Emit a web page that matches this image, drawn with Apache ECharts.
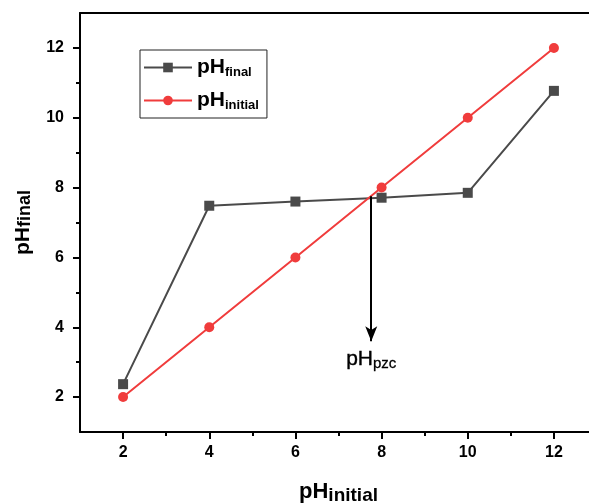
<!DOCTYPE html>
<html>
<head>
<meta charset="utf-8">
<script src="https://cdn.jsdelivr.net/npm/echarts@6/dist/echarts.min.js"></script>
<style>
	html, body { margin: 0; padding: 0; background: #fff; }
	#container { width: 589px; height: 504px; }
</style>
</head>
<body>
<div id="container"></div>
<script type="text/javascript">
	// data
	var phInitial = [2, 4, 6, 8, 10, 12];
	var phFinal = [2.37, 7.48, 7.6, 7.71, 7.85, 10.77];
	var majorTicks = [2, 4, 6, 8, 10, 12];
	var minorTicks = [3, 5, 7, 9, 11];
	var tickSlots = [1, 2, 3, 4, 5, 6, 7, 8, 9, 10, 11, 12, 13];
	// pzc arrow: x, top y, tip y
	var pzcX = 7.76;
	var pzcArrow = [7.75, 3.6];

	var font = 'Liberation Sans';
	var dom = document.getElementById('container');
	var myChart = echarts.init(dom);

	function pairs(xs, ys) {
		return xs.map(function (x, i) { return [x, ys[i]]; });
	}

	function mainAxis(pos) {
		return {
			type: 'value', min: 1, max: 13, position: pos,
			splitLine: { show: false },
			axisLine: { show: true, onZero: false, lineStyle: { color: '#000', width: 2 } },
			axisTick: { show: false },
			axisLabel: { customValues: majorTicks.slice(), color: '#000', fontFamily: font, fontWeight: 'bold', fontSize: 16 }
		};
	}
	// tick-only category axis, one slot per integer, picks which ticks to draw
	function tickAxis(pos, values, len) {
		return {
			type: 'category', data: tickSlots, boundaryGap: false, position: pos,
			splitLine: { show: false },
			axisLine: { show: false },
			axisTick: {
				show: true, length: len,
				interval: function (i, v) { return values.indexOf(+v) >= 0; },
				lineStyle: { color: '#000', width: 2 }
			},
			axisLabel: { show: false }
		};
	}

	var option = {
		animation: false,
		textStyle: { fontFamily: font },
		grid: {
			left: 80, right: -8, top: 13, bottom: 72,
			outerBoundsMode: 'none',
			containLabel: false
		},
		legend: {
			orient: 'vertical',
			left: 140, top: 50,
			padding: [7, 8, 6, 3],
			itemGap: 11,
			itemWidth: 48, itemHeight: 12,
			borderColor: '#222', borderWidth: 1,
			data: ['final', 'initial'],
			formatter: function (name) { return '{a|pH}{b|' + name + '}'; },
			textStyle: {
				rich: {
					a: { fontFamily: font, fontWeight: 'bold', fontSize: 21, color: '#000', lineHeight: 24 },
					b: { fontFamily: font, fontWeight: 'bold', fontSize: 13, color: '#000', padding: [10, 0, 0, 0] }
				}
			}
		},
		xAxis: [
			echarts.util.merge(mainAxis('bottom'), {
				name: '{a|pH}{b|initial}',
				nameLocation: 'middle', nameGap: 46,
				nameTextStyle: {
					rich: {
						a: { fontFamily: font, fontWeight: 'bold', fontSize: 22, color: '#000' },
						b: { fontFamily: font, fontWeight: 'bold', fontSize: 19, color: '#000', padding: [8, 0, 0, 0] }
					}
				},
				axisLabel: { margin: 13 }
			}, true),
			tickAxis('bottom', majorTicks, 7),
			tickAxis('bottom', minorTicks, 4),
			{
				type: 'value', min: 1, max: 13, position: 'top',
				splitLine: { show: false },
				axisLine: { show: true, onZero: false, lineStyle: { color: '#000', width: 2 } },
				axisTick: { show: false },
				axisLabel: { show: false }
			}
		],
		yAxis: [
			echarts.util.merge(mainAxis('left'), {
				name: '{a|pH}{b|final}',
				nameLocation: 'middle', nameGap: 46, nameRotate: 90,
				nameTextStyle: {
					rich: {
						a: { fontFamily: font, fontWeight: 'bold', fontSize: 21, color: '#000' },
						b: { fontFamily: font, fontWeight: 'bold', fontSize: 18, color: '#000', padding: [4, 0, 0, 0] }
					}
				},
				axisLabel: { margin: 16 }
			}, true),
			tickAxis('left', majorTicks, 7),
			tickAxis('left', minorTicks, 4)
		],
		series: [{
			name: 'final',
			type: 'line',
			xAxisIndex: 0, yAxisIndex: 0,
			data: pairs(phInitial, phFinal),
			color: '#4a4a4a',
			symbol: 'rect', symbolSize: 10,
			lineStyle: { color: '#4a4a4a', width: 2 },
			itemStyle: { color: '#4a4a4a' },
			z: 3,
			markLine: {
				silent: true,
				symbol: ['none', 'arrow'],
				symbolSize: [9, 15],
				lineStyle: { color: '#000', width: 2, type: 'solid' },
				label: {
					show: true, position: 'end', distance: 6,
					formatter: '{a|pH}{b|pzc}',
					rich: {
						a: { fontFamily: font, fontSize: 21, color: '#000', textBorderColor: '#000', textBorderWidth: 0.4 },
						b: { fontFamily: font, fontSize: 15, color: '#000', padding: [9, 0, 0, 0], textBorderColor: '#000', textBorderWidth: 0.3 }
					}
				},
				data: [[{ coord: [pzcX, pzcArrow[0]] }, { coord: [pzcX, pzcArrow[1]] }]]
			}
		}, {
			name: 'initial',
			type: 'line',
			xAxisIndex: 0, yAxisIndex: 0,
			data: pairs(phInitial, phInitial),
			color: '#f03c3c',
			symbol: 'circle', symbolSize: 10,
			lineStyle: { color: '#f03c3c', width: 2 },
			itemStyle: { color: '#f03c3c' },
			z: 4
		}]
	};

	if (option && typeof option === 'object') {
		myChart.setOption(option, true);
	}
</script>
</body>
</html>
